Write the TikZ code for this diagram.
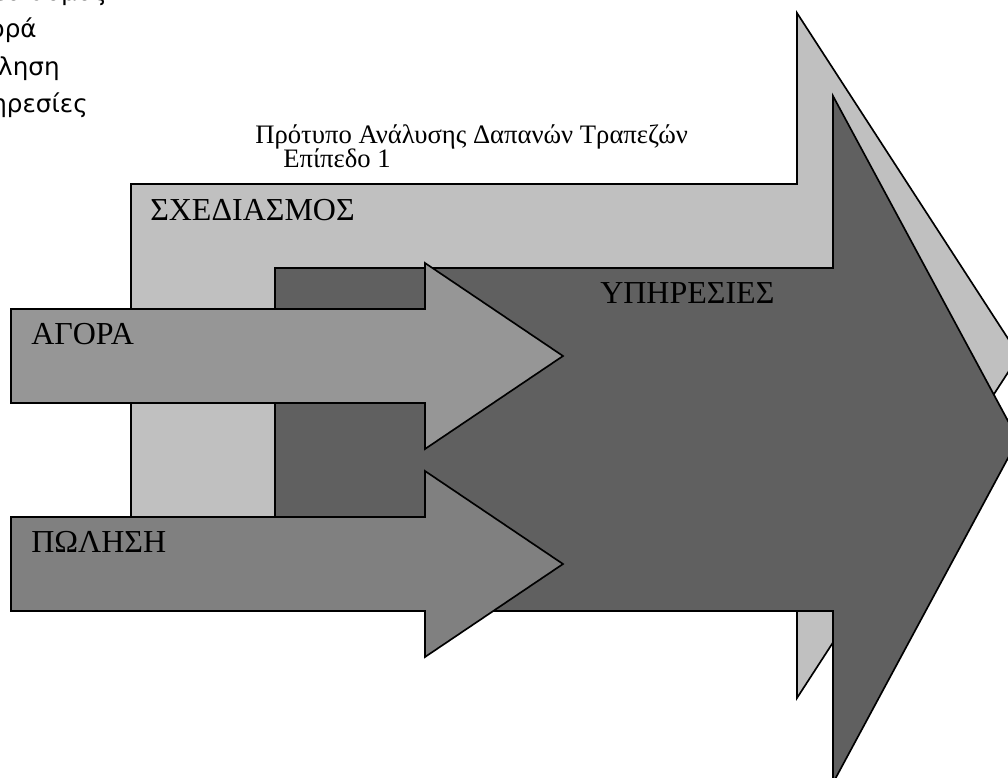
\documentclass[tikz,border=0pt]{standalone}
\usepackage{fontspec}
\setmainfont{Liberation Serif}
\newfontfamily\listfont{DejaVu Sans}
\definecolor{planfill}{HTML}{C0C0C0}
\definecolor{servfill}{HTML}{606060}
\definecolor{buyfill}{HTML}{969696}
\definecolor{sellfill}{HTML}{808080}
\tikzset{
  bigarrow/.style={draw=black, line width=1.25pt, line join=miter},
  label/.style={inner sep=0pt, anchor=base west, font=\fontsize{24}{28}\selectfont},
  titletext/.style={inner sep=0pt, anchor=base west, font=\fontsize{20}{23}\selectfont},
  listtext/.style={inner sep=0pt, anchor=base east, font=\listfont\fontsize{18.5}{21}\selectfont},
}
\begin{document}
\begin{tikzpicture}[x=0.75pt, y=-0.75pt]
\useasboundingbox (0,0) rectangle (1008,778);
\clip (0,0) rectangle (1008,778);
\fill[white] (0,0) rectangle (1008,778);

% stage list in the upper left corner
\node[listtext] (list1) at (107,0) {Σχεδιασμός};
\node[listtext] (list2) at (37,37) {Αγορά};
\node[listtext] (list3) at (60,75) {Πώληση};
\node[listtext] (list4) at (88,112) {Υπηρεσίες};

% title
\node[titletext] (title1) at (255,143) {Πρότυπο Ανάλυσης Δαπανών Τραπεζών};
\node[titletext] (title2) at (283,167) {Επίπεδο 1};

% planning arrow (back)
\draw[bigarrow, fill=planfill] (131,184) -- (797,184) -- (797,13) -- (1019,355.5)
  -- (797,698) -- (797,527) -- (131,527) -- cycle;
% services arrow
\draw[bigarrow, fill=servfill] (275,268) -- (833,268) -- (833,96) -- (1018,439.5)
  -- (833,783) -- (833,611) -- (275,611) -- cycle;
% purchase arrow
\draw[bigarrow, fill=buyfill] (11,309) -- (425,309) -- (425,263) -- (563,356)
  -- (425,449) -- (425,403) -- (11,403) -- cycle;
% sale arrow
\draw[bigarrow, fill=sellfill] (11,517) -- (425,517) -- (425,471) -- (563,564)
  -- (425,657) -- (425,611) -- (11,611) -- cycle;

\node[label] (plan) at (150,220) {ΣΧΕΔΙΑΣΜΟΣ};
\node[label] (serv) at (600,303) {ΥΠΗΡΕΣΙΕΣ};
\node[label] (buy) at (31,344) {ΑΓΟΡΑ};
\node[label] (sell) at (31,552) {ΠΩΛΗΣΗ};
\end{tikzpicture}
\end{document}
